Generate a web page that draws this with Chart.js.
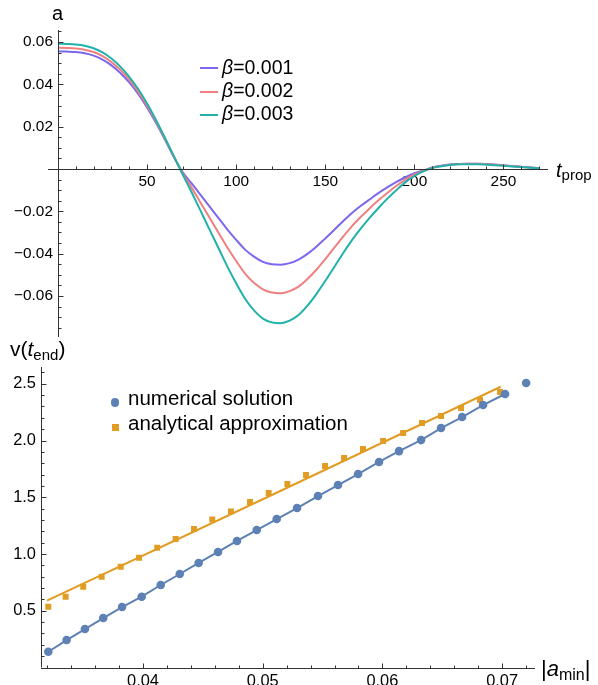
<!DOCTYPE html>
<html>
<head>
<meta charset="utf-8">
<script src="https://cdn.jsdelivr.net/npm/chart.js@4.4.1/dist/chart.umd.min.js"></script>
<style>
html,body{margin:0;padding:0;background:#fff;}
body{width:598px;height:685px;position:relative;overflow:hidden;font-family:"Liberation Sans",Arial,Helvetica,sans-serif;color:#000;}
canvas{position:absolute;left:0;}
.txt{position:absolute;white-space:nowrap;}
.it{font-style:italic;}
.sw{position:absolute;height:2px;width:18px;}
.sub{position:relative;}
</style>
</head>
<body>
<canvas id="topChart" width="598" height="340" style="top:0"></canvas>
<canvas id="botChart" width="598" height="345" style="top:340px"></canvas>

<!-- top chart texts -->
<div class="txt" style="left:52px;top:3px;font-size:20px;line-height:20px">a</div>
<div class="txt" style="left:556px;top:160px;font-size:20px;line-height:20px"><span class="it">t</span><span class="sub" style="font-size:15px;top:3px">prop</span></div>
<div class="sw" style="left:200px;top:67px;background:#7B68EE"></div>
<div class="sw" style="left:200px;top:90.5px;background:#F08080"></div>
<div class="sw" style="left:200px;top:114px;background:#20B2AA"></div>
<div class="txt" style="left:222px;top:57.5px;font-size:19.5px;line-height:19.5px"><span class="it">β</span>=0.001</div>
<div class="txt" style="left:222px;top:80.5px;font-size:19.5px;line-height:19.5px"><span class="it">β</span>=0.002</div>
<div class="txt" style="left:222px;top:103.5px;font-size:19.5px;line-height:19.5px"><span class="it">β</span>=0.003</div>

<!-- bottom chart texts -->
<div class="txt" style="left:10px;top:338px;font-size:21px;line-height:21px">v(<span class="it">t</span><span class="sub" style="font-size:15px;top:4px">end</span>)</div>
<div style="position:absolute;left:110.7px;top:398.4px;width:8.6px;height:8.6px;border-radius:50%;background:#5E81B5"></div>
<div class="txt" style="left:128px;top:387.6px;font-size:20.5px;line-height:20.5px">numerical solution</div>
<div style="position:absolute;left:111.5px;top:423.5px;width:7px;height:7px;background:#E19C24"></div>
<div class="txt" style="left:128px;top:413.3px;font-size:20.5px;line-height:20.5px">analytical approximation</div>
<div class="txt" style="left:541px;top:658px;font-size:22px;line-height:22px">|<span class="it">a</span><span class="sub" style="font-size:16px;top:4px">min</span>|</div>

<script>
// ---------- Top chart data: a(t_prop) for three beta values ----------
const tProp = [0,5,10,15,20,25,30,35,40,45,50,55,60,65,70,75,80,85,90,95,100,105,110,115,120,125,130,135,140,145,150,155,160,165,170,175,180,185,190,195,200,205,210,215,220,225,230,235,240,245,250,255,260,265,270];
const aBeta001 = [0.0556,0.0555,0.0553,0.0547,0.0536,0.0517,0.0490,0.0454,0.0409,0.0355,0.0291,0.0218,0.0139,0.0057,
  -0.0016,-0.0068,-0.0122,-0.0177,-0.0231,-0.0285,-0.0335,-0.0381,-0.0414,-0.0439,-0.0450,-0.0452,-0.0445,-0.0428,
  -0.0401,-0.0367,-0.0328,-0.0288,-0.0247,-0.0208,-0.0174,-0.0143,-0.0113,-0.0086,-0.0061,-0.0039,-0.0020,-0.0007,
  0.0007,0.0015,0.0021,0.0024,0.0025,0.0025,0.0024,0.0021,0.0018,0.0014,0.0011,0.0007,0.0004];
const aBeta002 = [0.0573,0.0572,0.0570,0.0564,0.0553,0.0533,0.0505,0.0469,0.0422,0.0366,0.0300,0.0225,0.0143,0.0059,
  -0.0021,-0.0088,-0.0159,-0.0229,-0.0300,-0.0370,-0.0435,-0.0494,-0.0538,-0.0569,-0.0584,-0.0587,-0.0577,-0.0556,
  -0.0520,-0.0476,-0.0426,-0.0373,-0.0320,-0.0270,-0.0226,-0.0185,-0.0147,-0.0112,-0.0079,-0.0050,-0.0026,-0.0009,
  0.0006,0.0014,0.0020,0.0023,0.0025,0.0025,0.0023,0.0020,0.0017,0.0013,0.0010,0.0007,0.0004];
const aBeta003 = [0.0592,0.0591,0.0589,0.0583,0.0571,0.0551,0.0522,0.0484,0.0436,0.0378,0.0310,0.0232,0.0148,0.0061,
  -0.0026,-0.0110,-0.0197,-0.0285,-0.0372,-0.0460,-0.0540,-0.0613,-0.0668,-0.0707,-0.0725,-0.0729,-0.0717,-0.0690,
  -0.0646,-0.0591,-0.0529,-0.0464,-0.0398,-0.0336,-0.0281,-0.0230,-0.0183,-0.0139,-0.0099,-0.0062,-0.0033,-0.0011,
  0.0005,0.0013,0.0019,0.0022,0.0023,0.0023,0.0021,0.0018,0.0015,0.0012,0.0009,0.0006,0.0003];
const topXTicks = [50,100,150,200,250];
const topYTicks = [-0.06,-0.04,-0.02,0.02,0.04,0.06];

// ---------- Bottom chart data: v(t_end) vs |a_min| ----------
const numX = [0.03209,0.03362,0.03515,0.03668,0.03825,0.03989,0.04148,0.04307,0.04465,0.04627,0.04785,0.04950,0.05117,0.05287,0.05462,0.05629,0.05797,0.05972,0.06139,0.06323,0.06490,0.06666,0.06841,0.07025,0.07201];
const numY = [0.139,0.242,0.339,0.436,0.533,0.624,0.727,0.824,0.921,1.018,1.115,1.211,1.308,1.405,1.511,1.608,1.705,1.811,1.907,2.004,2.110,2.207,2.313,2.410,2.507];
const anaX = [0.03209,0.03354,0.03501,0.03655,0.03814,0.03967,0.04119,0.04273,0.04426,0.04579,0.04735,0.04894,0.05050,0.05206,0.05362,0.05521,0.05680,0.05838,0.06006,0.06173,0.06331,0.06490,0.06657,0.06816,0.06983];
const anaY = [0.536,0.624,0.712,0.800,0.888,0.967,1.056,1.132,1.220,1.304,1.376,1.458,1.537,1.617,1.696,1.775,1.846,1.925,1.996,2.066,2.154,2.216,2.286,2.357,2.427];
const numLineCount = 24; // the numerical line runs through the first 24 points
const anaLineX = [0.03198,0.05094,0.06988];
const anaLineY = [0.589,1.529,2.474];
const botXTicks = [0.04,0.05,0.06,0.07];
const botYTicks = [0.5,1.0,1.5,2.0,2.5];

const FONT = '"Liberation Sans", Arial, Helvetica, sans-serif';
const pts = (xs, ys) => xs.map((x, i) => ({x, y: ys[i]}));
const noPad = s => { s.paddingTop = 0; s.paddingBottom = 0; s.paddingLeft = 0; s.paddingRight = 0; };

// Mathematica-style axes: lines through a point, ticks pointing inward
const mmaAxes = {
  id: 'mmaAxes',
  afterDraw(chart, args, o) {
    const {ctx, chartArea: ca, scales: {x, y}} = chart;
    const ax = Math.round(x.getPixelForValue(o.yAxisAtX)) + 0.5;
    const ay = Math.round(y.getPixelForValue(o.xAxisAtY)) + 0.5;
    ctx.save();
    ctx.strokeStyle = '#333';
    ctx.lineWidth = 1;
    ctx.beginPath();
    ctx.moveTo(ca.left, ay); ctx.lineTo(ca.right, ay);
    ctx.moveTo(ax, ca.top); ctx.lineTo(ax, ca.bottom);
    ctx.stroke();
    ctx.beginPath();
    const isMajor = (v, m) => Math.abs(Math.round(v / m) * m - v) < Math.abs(m) * 1e-6;
    for (let i = Math.ceil(x.min / o.xMinor); i * o.xMinor <= x.max; i++) {
      const v = i * o.xMinor;
      if (Math.abs(v - o.yAxisAtX) < o.xMinor * 1e-3) continue;
      const px = Math.round(x.getPixelForValue(v)) + 0.5;
      const len = isMajor(v, o.xMajor) ? o.majorLen : o.minorLen;
      ctx.moveTo(px, ay); ctx.lineTo(px, ay - len);
    }
    for (let i = Math.ceil(y.min / o.yMinor); i * o.yMinor <= y.max; i++) {
      const v = i * o.yMinor;
      if (Math.abs(v - o.xAxisAtY) < o.yMinor * 1e-3) continue;
      const py = Math.round(y.getPixelForValue(v)) + 0.5;
      const len = isMajor(v, o.yMajor) ? o.majorLen : o.minorLen;
      ctx.moveTo(ax, py); ctx.lineTo(ax + len, py);
    }
    ctx.stroke();
    ctx.restore();
  }
};

// ---------- Top chart ----------
const lineDs = (label, ys, color, order) => ({
  label, data: pts(tProp, ys), borderColor: color, backgroundColor: color,
  borderWidth: 2, pointRadius: 0, cubicInterpolationMode: 'monotone', fill: false, order
});
new Chart(document.getElementById('topChart'), {
  type: 'line',
  data: { datasets: [
    lineDs('β=0.001', aBeta001, '#7B68EE', 3),
    lineDs('β=0.002', aBeta002, '#F08080', 2),
    lineDs('β=0.003', aBeta003, '#20B2AA', 1)
  ]},
  options: {
    responsive: false, animation: false, devicePixelRatio: 1,
    layout: { padding: { left: 48, right: 50, top: 30, bottom: 3 } },
    plugins: { legend: { display: false }, tooltip: { enabled: false },
      mmaAxes: { xAxisAtY: 0, yAxisAtX: 0, xMinor: 10, xMajor: 50, yMinor: 0.005, yMajor: 0.02, majorLen: 5, minorLen: 3 } },
    scales: {
      x: { type: 'linear', min: -5.6, max: 275, position: { y: 0 },
        grid: { display: false, drawTicks: false }, border: { display: false },
        afterBuildTicks: ax => { ax.ticks = topXTicks.map(v => ({ value: v })); },
        afterFit: noPad,
        ticks: { padding: 4, color: '#000', autoSkip: false, maxRotation: 0, font: { family: FONT, size: 15.4 },
          callback: v => String(v) } },
      // labels anchored 5px left of the axis line (axis itself drawn at t = 0 by the plugin)
      y: { type: 'linear', min: -0.0794, max: 0.0657, position: { x: -2.8 },
        grid: { display: false, drawTicks: false }, border: { display: false },
        afterBuildTicks: ax => { ax.ticks = topYTicks.map(v => ({ value: v })); },
        afterFit: noPad,
        ticks: { padding: 5, color: '#000', autoSkip: false, font: { family: FONT, size: 15.4 },
          callback: v => (v < 0 ? '\u2212' : '') + Math.abs(v).toFixed(2) } }
    }
  },
  plugins: [mmaAxes]
});

// ---------- Bottom chart ----------
const xMinB = 0.03148, xMaxB = 0.07275;
new Chart(document.getElementById('botChart'), {
  type: 'scatter',
  data: { datasets: [
    { label: 'numerical solution', data: pts(numX, numY), pointStyle: 'circle', pointRadius: 4.3,
      backgroundColor: '#5E81B5', borderWidth: 0, showLine: false, order: 0 },
    { label: 'analytical approximation', data: pts(anaX, anaY), pointStyle: 'rect', pointRadius: 4.2,
      backgroundColor: '#E19C24', borderWidth: 0, showLine: false, order: 1 },
    { label: 'numerical line', data: pts(numX.slice(0, numLineCount), numY.slice(0, numLineCount)),
      showLine: true, pointRadius: 0, borderColor: '#5E81B5', borderWidth: 2, order: 2 },
    { label: 'analytical line', data: pts(anaLineX, anaLineY),
      showLine: true, pointRadius: 0, borderColor: '#E19C24', borderWidth: 2, order: 3 }
  ]},
  options: {
    responsive: false, animation: false, devicePixelRatio: 1,
    layout: { padding: { left: 41, right: 63, top: 27, bottom: 17.5 } },
    plugins: { legend: { display: false }, tooltip: { enabled: false },
      mmaAxes: { xAxisAtY: 0, yAxisAtX: xMinB, xMinor: 0.002, xMajor: 0.01, yMinor: 0.1, yMajor: 0.5, majorLen: 5, minorLen: 3 } },
    scales: {
      x: { type: 'linear', min: xMinB, max: xMaxB, position: { y: 0 },
        grid: { display: false, drawTicks: false }, border: { display: false },
        afterBuildTicks: ax => { ax.ticks = botXTicks.map(v => ({ value: v })); },
        afterFit: noPad,
        ticks: { padding: 4, color: '#000', autoSkip: false, maxRotation: 0, font: { family: FONT, size: 16.4 },
          callback: v => v.toFixed(2) } },
      // labels anchored 5px left of the axis line (axis drawn at xMinB by the plugin)
      y: { type: 'linear', min: 0, max: 2.648, position: { x: xMinB - 0.00042 },
        grid: { display: false, drawTicks: false }, border: { display: false },
        afterBuildTicks: ax => { ax.ticks = botYTicks.map(v => ({ value: v })); },
        afterFit: noPad,
        ticks: { padding: 5, color: '#000', autoSkip: false, font: { family: FONT, size: 16.4 },
          callback: v => v.toFixed(1) } }
    }
  },
  plugins: [mmaAxes]
});
</script>
</body>
</html>
